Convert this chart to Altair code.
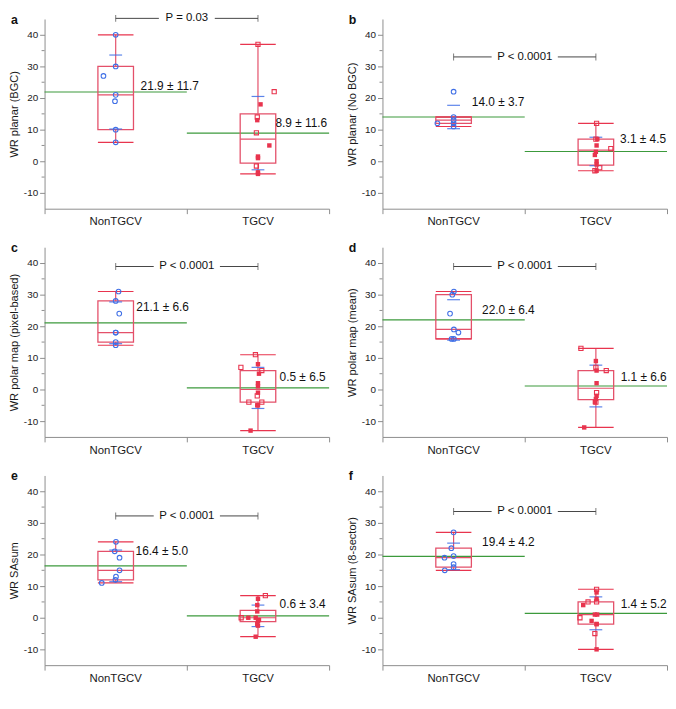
import altair as alt
import pandas as pd

# ---------------- data ----------------
panel_ids = ["a", "b", "c", "d", "e", "f"]
groups = ["NonTGCV", "TGCV"]
y_titles = ["WR planar (BGC)", "WR planar (No BGC)", "WR polar map (pixel-based)",
            "WR polar map (mean)", "WR SAsum", "WR SAsum (8-sector)"]
p_texts = ["P = 0.03", "P < 0.0001", "P < 0.0001", "P < 0.0001", "P < 0.0001", "P < 0.0001"]
p_levels = [45.2, 33.0, 38.9, 38.9, 32.2, 33.6]

means = [[21.9, 8.9], [14.0, 3.1], [21.1, 0.5], [22.0, 1.1], [16.4, 0.6], [19.4, 1.4]]
sds = [[11.7, 11.6], [3.7, 4.5], [6.6, 6.5], [6.4, 6.6], [5.0, 3.4], [4.2, 5.2]]
q1s = [[10, -0.6], [12, -1.2], [15, -4], [16, -3.2], [12, -1.2], [16, -2]]
medians = [[21, 7], [13, 3.5], [18, 0], [19, 0.4], [15, 0], [19, 1]]
q3s = [[30, 15], [14, 7], [28, 6], [30, 6], [21, 2.3], [22, 5]]
whisk_lo = [[6, -4], [11, -3], [14, -13], [16, -12], [11, -6], [15, -10]]
whisk_hi = [[40, 37], [14, 12], [31, 11], [31, 13], [24, 7], [27, 9]]
label_y = [[23.8, 12.2], [18.6, 6.9], [26.2, 4.0], [25.0, 4.0], [21.1, 4.35], [24.0, 4.35]]
label_dx = [[0.175, 0.123], [0.128, 0.17], [0.145, 0.152], [0.2, 0.174], [0.14, 0.152], [0.2, 0.174]]

non_vals = {
    "a": [40, 30, 27, 21, 19, 10, 6],
    "b": [22, 14, 13, 12, 12, 11],
    "c": [31, 28, 24, 18, 18, 15, 14],
    "d": [31, 30, 24, 19, 18, 16, 16],
    "e": [24, 21, 19, 15, 13, 12, 11],
    "f": [27, 22, 19.5, 19, 17, 16, 15],
}
non_jit = {
    "a": [0, 0, -0.086, 0, -0.005, 0, 0],
    "b": [0, 0, 0, -0.114, 0, 0],
    "c": [0.02, 0, 0.025, 0, 0, 0, 0],
    "d": [0.002, -0.009, -0.025, 0.002, 0.034, -0.014, 0.002],
    "e": [0.002, -0.007, 0.027, 0.027, 0.002, -0.002, -0.098],
    "f": [0, -0.016, 0, -0.064, 0, 0, -0.062],
}
tgcv_vals = {
    "a": [37, 22, 18, 14, 13, 9, 5, 1.5, 1, -1.5, -3.5, -4],
    "b": [12, 7, 7, 5, 4, 3, 2, 0, -1, -2, -3, -3],
    "c": [11, 8, 7, 6, 5, 2, 1, -1, -2, -4, -4, -5, -5, -13],
    "d": [13, 9, 7, 6, 6, 2, -1, -2, -3, -4, -4, -12],
    "e": [7, 6, 4, 2, 0, 0, 0, -0.7, -1, -2, -2.5, -6],
    "f": [9, 8, 6, 5, 5, 4, 1, 1, 0, -1, -2, -2, -5, -10],
}
tgcv_jit = {
    "a": [0, 0.114, 0.018, -0.005, -0.005, -0.011, 0.08, 0, 0, -0.011, 0, 0],
    "b": [0.005, 0, 0.01, 0.005, 0.105, 0, -0.007, 0.005, 0.005, 0.027, -0.007, 0.005],
    "c": [-0.018, 0, -0.12, 0.027, 0.007, 0, 0, 0, -0.005, -0.064, 0.027, -0.005, 0, -0.052],
    "d": [-0.105, 0, 0, 0.005, 0.073, 0.005, 0.005, 0.005, 0, 0, -0.007, -0.082],
    "e": [0.052, 0, -0.005, -0.005, -0.118, -0.068, -0.016, 0.007, 0, -0.005, 0, -0.016],
    "f": [0.005, 0.005, 0.005, 0.005, -0.055, -0.089, -0.007, 0.009, -0.112, -0.03, 0.005, 0.005, -0.007, 0.005],
}
tgcv_filled = {
    "a": [0, 0, 1, 0, 1, 0, 1, 1, 1, 0, 1, 1],
    "b": [0, 0, 1, 1, 0, 1, 1, 1, 1, 0, 0, 1],
    "c": [0, 1, 0, 0, 1, 1, 1, 1, 0, 0, 0, 1, 1, 1],
    "d": [0, 1, 0, 1, 0, 1, 0, 1, 1, 0, 1, 1],
    "e": [0, 1, 1, 1, 0, 1, 1, 1, 1, 1, 1, 1],
    "f": [0, 1, 1, 0, 0, 1, 1, 1, 0, 1, 1, 1, 0, 1],
}
y_ticks = [-10, 0, 10, 20, 30, 40]
y_minor = [-5, 5, 15, 25, 35]

# ---------------- styling ----------------
W, H = 288, 192
RED = "#e8344e"
BOX_RED = "#e4506a"
BLUE = "#3f6fe6"
GREEN = "#3c9a3c"
AXIS_GRAY = "#8c8c8c"
FONT = "Liberation Sans"
BOX_HALF = 0.125
SD_HALF = 0.045
CENTERS = [0.5, 1.5]
P_FONT = 11.5

xscale = alt.Scale(domain=[0, 2], nice=False, zero=False)
yscale = alt.Scale(domain=[-15, 45], nice=False, zero=False)
xaxis = alt.Axis(values=[0, 1, 2], title=None, grid=False, tickSize=5, labels=False,
                 domainColor=AXIS_GRAY, tickColor=AXIS_GRAY)


def yaxis(title):
    return alt.Axis(values=y_ticks, title=title, grid=False, tickSize=5,
                    labelExpr="'' + datum.value", labelFontSize=10, labelColor="#222222",
                    labelPadding=2, titleFontSize=11.2, titleFontWeight="normal",
                    titleColor="#1a1a1a", titlePadding=4,
                    domainColor=AXIS_GRAY, tickColor=AXIS_GRAY)


def panel(i):
    pid = panel_ids[i]
    ytitle = y_titles[i]

    def X(f):
        return alt.X(f"{f}:Q", scale=xscale, axis=xaxis)

    def Y(f):
        return alt.Y(f"{f}:Q", scale=yscale, axis=yaxis(ytitle))

    rows = []
    for v, j in zip(non_vals[pid], non_jit[pid]):
        rows.append({"px": CENTERS[0] + j, "py": v, "kind": "non"})
    for v, j, f in zip(tgcv_vals[pid], tgcv_jit[pid], tgcv_filled[pid]):
        rows.append({"px": CENTERS[1] + j, "py": v, "kind": "filled" if f else "open"})
    pts = pd.DataFrame(rows)

    st = pd.DataFrame({
        "c": CENTERS,
        "grp": groups,
        "xl": [c - BOX_HALF for c in CENTERS],
        "xr": [c + BOX_HALF for c in CENTERS],
        "sxl": [c - SD_HALF for c in CENTERS],
        "sxr": [c + SD_HALF for c in CENTERS],
        "g0": [0, 1], "g1": [1, 2],
        "q1": q1s[i], "med": medians[i], "q3": q3s[i],
        "lo": whisk_lo[i], "hi": whisk_hi[i],
        "mean": means[i],
        "sdlo": [m - s for m, s in zip(means[i], sds[i])],
        "sdhi": [m + s for m, s in zip(means[i], sds[i])],
        "lx": [c + d for c, d in zip(CENTERS, label_dx[i])],
        "ly": label_y[i],
        "label": [f"{m:.1f} ± {s:.1f}" for m, s in zip(means[i], sds[i])],
    })
    # bracket split around the P text (gap sized from the text length)
    ptxt = p_texts[i]
    gap = (2.6 * len(ptxt) + 7.5) / (W / 2)
    seg = pd.DataFrame({"s0": [CENTERS[0], 1 + gap], "s1": [1 - gap, CENTERS[1]],
                        "py": [p_levels[i]] * 2})
    pdf = pd.DataFrame({"xm": [1.0], "py": [p_levels[i]], "t": [ptxt]})
    pends = pd.DataFrame({"xe": CENTERS, "py": [p_levels[i]] * 2})
    minor = pd.DataFrame({"v": y_minor})
    letter = pd.DataFrame({"t": [pid]})

    base = alt.Chart(st)
    layers = [
        alt.Chart(minor).mark_rule(color=AXIS_GRAY, strokeWidth=1).encode(
            y=Y("v"), x=alt.value(-3), x2=alt.value(0)),
        base.mark_rule(color=GREEN, strokeWidth=1.2).encode(x=X("g0"), x2="g1", y=Y("mean")),
        base.mark_rect(fill="white", fillOpacity=0, stroke=BOX_RED, strokeWidth=1.3).encode(
            x=X("xl"), x2="xr", y=Y("q1"), y2="q3"),
        base.mark_rule(color=BOX_RED, strokeWidth=1.2).encode(x=X("xl"), x2="xr", y=Y("med")),
        base.mark_rule(color=BOX_RED, strokeWidth=1.2).encode(x=X("c"), y=Y("q3"), y2="hi"),
        base.mark_rule(color=BOX_RED, strokeWidth=1.2).encode(x=X("c"), y=Y("lo"), y2="q1"),
        base.mark_rule(color=RED, strokeWidth=1.2).encode(x=X("xl"), x2="xr", y=Y("hi")),
        base.mark_rule(color=RED, strokeWidth=1.2).encode(x=X("xl"), x2="xr", y=Y("lo")),
        base.mark_rule(color=BLUE, strokeWidth=1.2, opacity=0.85).encode(x=X("sxl"), x2="sxr", y=Y("sdhi")),
        base.mark_rule(color=BLUE, strokeWidth=1.2, opacity=0.85).encode(x=X("sxl"), x2="sxr", y=Y("sdlo")),
        alt.Chart(pts).transform_filter("datum.kind == 'non'").mark_point(
            shape="circle", filled=False, color=BLUE, size=22, strokeWidth=1.1, opacity=1).encode(
            x=X("px"), y=Y("py")),
        alt.Chart(pts).transform_filter("datum.kind == 'open'").mark_point(
            shape="square", filled=False, color=RED, size=18, strokeWidth=1.1, opacity=1).encode(
            x=X("px"), y=Y("py")),
        alt.Chart(pts).transform_filter("datum.kind == 'filled'").mark_point(
            shape="square", filled=True, color=RED, size=20, opacity=1).encode(
            x=X("px"), y=Y("py")),
        base.mark_text(align="left", baseline="middle", fontSize=12, color="#111111").encode(
            x=X("lx"), y=Y("ly"), text="label:N"),
        base.mark_text(align="center", baseline="top", fontSize=11.5, color="#1a1a1a").encode(
            x=X("c"), y=alt.value(H + 8), text="grp:N"),
        alt.Chart(seg).mark_rule(color="#444444", strokeWidth=1).encode(
            x=X("s0"), x2="s1", y=Y("py")),
        alt.Chart(pends).mark_tick(orient="vertical", size=7, thickness=1, color="#444444").encode(
            x=X("xe"), y=Y("py")),
        alt.Chart(pdf).mark_text(fontSize=P_FONT, color="#111111", baseline="middle", align="center").encode(
            x=X("xm"), y=Y("py"), text="t:N"),
        alt.Chart(letter).mark_text(fontSize=12.5, fontWeight="bold", align="left", baseline="top",
                                    color="#111111").encode(
            x=alt.value(-34), y=alt.value(-5), text="t:N"),
    ]
    return alt.layer(*layers).properties(width=W, height=H)


chart = alt.concat(*[panel(i) for i in range(6)], columns=2,
                   spacing={"row": 14, "column": 16}).properties(padding=0).configure(
    font=FONT).configure_view(strokeWidth=0)

chart.save("out.html", embed_options={"renderer": "svg", "actions": False})
